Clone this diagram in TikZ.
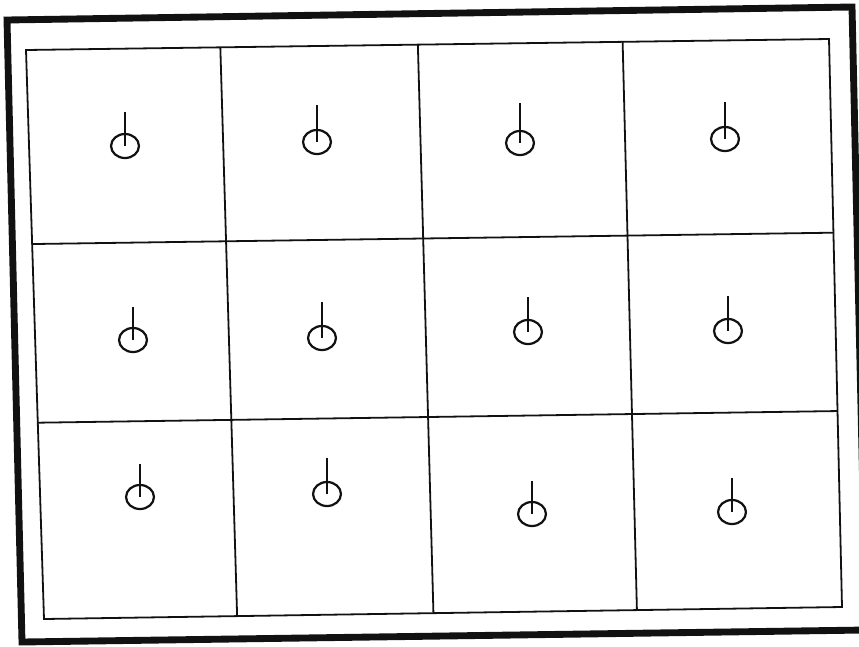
\documentclass[tikz,border=0pt]{standalone}
\usetikzlibrary{calc, shapes.geometric}
\definecolor{cink}{HTML}{111111}
\tikzset{
  every picture/.style={line width=1.2pt},
  frame/.style={draw=cink, line width=6.5pt, line join=miter},
  gridline/.style={draw=cink, line width=1.7pt},
  bulb/.style={ellipse, draw=cink, line width=2.1pt, minimum width=0.93cm, minimum height=0.8cm, inner sep=0pt},
  stem/.style={draw=cink, line width=2.4pt},
}

\begin{document}
\begin{tikzpicture}[x=0.0333cm, y=-0.0333cm]
  \path[use as bounding box, clip] (0,0) rectangle (859,646);

  % scanned outer frame
  \draw[frame] (7,20) -- (852,7) -- (866,630) -- (22,642) -- cycle;

  % inner grid, 4 x 3 cells
  \coordinate (tl) at (26,50);
  \coordinate (tr) at (829,39);
  \coordinate (br) at (842,607);
  \coordinate (bl) at (44,619);
  \draw[gridline] (tl) -- (tr) -- (br) -- (bl) -- cycle;
  \foreach \t in {0.242, 0.488, 0.743}
    \draw[gridline] ($(tl)!\t!(tr)$) -- ($(bl)!\t!(br)$);
  \foreach \t in {0.341, 0.655}
    \draw[gridline] ($(tl)!\t!(bl)$) -- ($(tr)!\t!(br)$);

  % one marker per cell
  \foreach \n/\x/\y/\h in {1/125/146/34, 2/317/142/37, 3/520/143/40, 4/725/139/37,
                           5/133/340/33, 6/322/338/36, 7/528/332/35, 8/728/331/35,
                           9/140/497/33, 10/327/494/36, 11/532/514/33, 12/732/512/34} {
    \node[bulb] (b\n) at (\x,\y) {};
    \draw[stem] (b\n.center) -- ++(0,-\h);
  }
\end{tikzpicture}
\end{document}
